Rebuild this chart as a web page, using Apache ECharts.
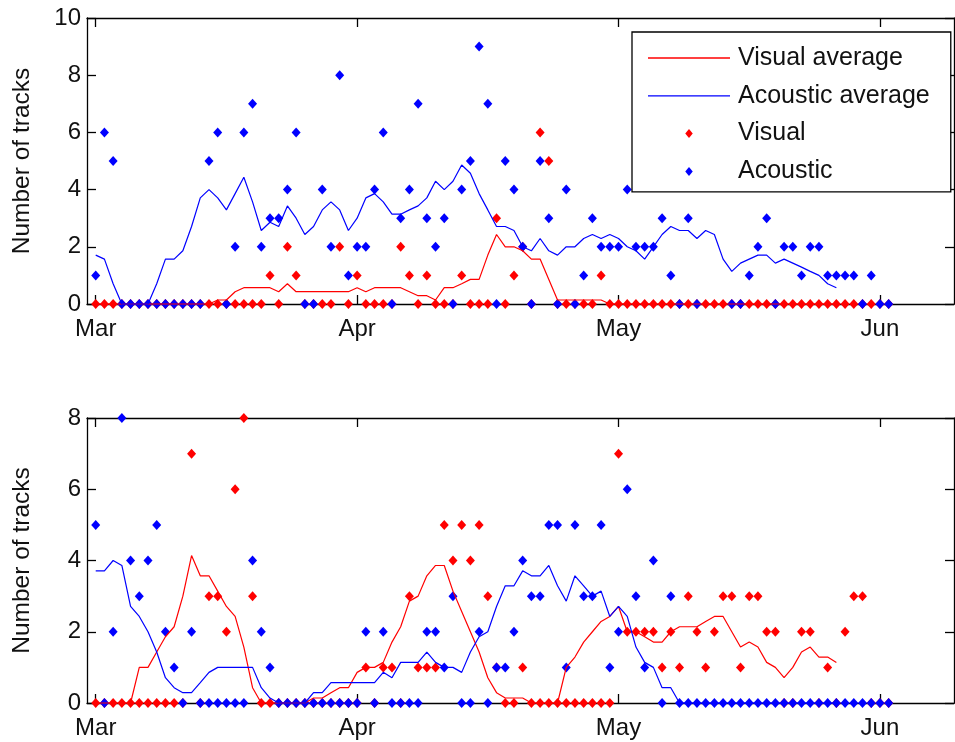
<!DOCTYPE html>
<html>
<head>
<meta charset="utf-8">
<script src="https://cdn.jsdelivr.net/npm/echarts/dist/echarts.min.js"></script>
<style>
  html, body { margin: 0; padding: 0; background: #fff; }
  #chart { width: 955px; height: 742px; }
</style>
</head>
<body>
<div id="chart"></div>
<script>
// Days counted from the first day of March; month ticks every 30 days.
const dayTicks = [0, 30, 60, 90];
const monthLabels = ['Mar', 'Apr', 'May', 'Jun'];

// Upper panel: daily track counts (d0 .. d91)
const topVisual = [
  0,0,0,0,0,0,0,0,0,0,
  0,0,0,0,0,0,0,0,0,0,
  1,0,2,1,0,0,0,0,2,0,
  1,0,0,0,0,2,1,0,1,0,
  0,0,1,0,0,0,3,0,1,2,
  0,6,5,0,0,0,0,0,1,0,
  0,0,0,0,0,0,0,0,0,0,
  0,0,0,0,0,0,0,0,0,0,
  0,0,0,0,0,0,0,0,0,0,
  0,0
];
const topAcoustic = [
  1,6,5,0,0,0,0,0,0,0,
  0,0,0,5,6,0,2,6,7,2,
  3,3,4,6,0,0,4,2,8,1,
  2,2,4,6,0,3,4,7,3,2,
  3,0,4,5,9,7,0,5,4,2,
  0,5,3,0,4,0,1,3,2,2,
  2,4,2,2,2,3,1,0,3,0,
  5,5,5,0,0,1,2,3,0,2,
  2,1,2,2,1,1,1,1,0,1,
  0,0
];
// Upper panel: 7-day averages (d0 .. d85)
const topVisualAvg = [
  0,0,0,0,0,0,0,0,0,0,
  0,0,0,0,0.14,0.14,0.43,0.57,0.57,0.57,
  0.57,0.43,0.71,0.43,0.43,0.43,0.43,0.43,0.43,0.43,
  0.57,0.43,0.57,0.57,0.57,0.57,0.43,0.29,0.29,0.14,
  0.57,0.57,0.71,0.86,0.86,1.71,2.43,2,2,1.86,
  1.57,1.57,0.86,0.14,0.14,0.14,0.14,0.14,0.14,0,
  0,0,0,0,0,0,0,0,0,0,
  0,0,0,0,0,0,0,0,0,0,
  0,0,0,0,0,0
];
const topAcousticAvg = [
  1.71,1.57,0.71,0,0,0,0,0.71,1.57,1.57,
  1.86,2.71,3.71,4,3.71,3.29,3.86,4.43,3.57,2.57,
  2.86,2.71,3.43,3,2.43,2.71,3.29,3.57,3.29,2.57,
  3,3.71,3.86,3.57,3.14,3.14,3.29,3.43,3.71,4.29,
  4,4.29,4.86,4.57,3.86,3.29,2.71,2.71,2.57,2,
  1.86,2.29,1.86,1.71,2,2,2.29,2.43,2.29,2.43,
  2.29,2,1.86,1.57,2,2.43,2.71,2.57,2.57,2.29,
  2.57,2.43,1.57,1.14,1.43,1.57,1.71,1.71,1.43,1.57,
  1.43,1.29,1.14,1,0.71,0.57
];

// Lower panel: daily track counts (d0 .. d91)
const bottomVisual = [
  0,0,0,0,0,0,0,0,0,0,
  0,7,0,3,3,2,6,8,3,0,
  0,0,0,0,0,0,0,0,0,0,
  0,1,0,1,1,0,3,1,1,1,
  5,4,5,4,5,3,1,0,0,1,
  0,0,0,0,0,0,0,0,0,0,
  7,2,2,2,2,1,2,1,3,2,
  1,2,3,3,1,3,3,2,2,0,
  0,2,2,0,1,0,2,3,3,0,
  0,0
];
const bottomAcoustic = [
  5,0,2,8,4,3,4,5,2,1,
  0,2,0,0,0,0,0,0,4,2,
  1,0,0,0,0,0,0,0,0,0,
  0,2,0,2,0,0,0,0,2,2,
  1,3,0,0,2,0,1,1,2,4,
  3,3,5,5,1,5,3,3,5,1,
  2,6,3,1,4,0,3,0,0,0,
  0,0,0,0,0,0,0,0,0,0,
  0,0,0,0,0,0,0,0,0,0,
  0,0
];
// Lower panel: 7-day averages (d0 .. d85)
const bottomVisualAvg = [
  0,0,0,0,0,1,1,1.43,1.86,2.14,
  3,4.14,3.57,3.57,3.14,2.71,2.43,1.57,0.43,0,
  0,0,0,0,0,0.14,0.14,0.29,0.43,0.43,
  0.86,1,1,1.14,1.71,2.14,2.86,3,3.57,3.86,
  3.86,3.14,2.57,2,1.43,0.71,0.29,0.14,0.14,0.14,
  0,0,0,0,1,1.29,1.71,2,2.29,2.43,
  2.71,2,2,1.86,1.71,1.71,2,2.14,2.14,2.14,
  2.29,2.43,2.43,2,1.57,1.71,1.57,1.14,1,0.71,
  1,1.43,1.57,1.29,1.29,1.14
];
const bottomAcousticAvg = [
  3.71,3.71,4,3.86,2.71,2.43,2,1.43,0.71,0.43,
  0.29,0.29,0.57,0.86,1,1,1,1,1,0.43,
  0.14,0,0,0,0,0.29,0.29,0.57,0.57,0.57,
  0.57,0.57,0.57,0.86,0.71,1.14,1.14,1.14,1.43,1.14,
  1,1,0.86,1.43,1.86,2,2.71,3.29,3.29,3.71,
  3.57,3.57,3.86,3.29,2.86,3.57,3.29,3,3.14,2.43,
  2.71,2.43,1.57,1.14,1,0.43,0.43,0,0,0,
  0,0,0,0,0,0,0,0,0,0,
  0,0,0,0,0,0
];

const FONT = "'Liberation Sans', Arial, Helvetica, sans-serif";
const RED = '#ff0000';
const BLUE = '#0000ff';
const X_MIN = -1;
const X_MAX = 98.5;

// Legend glyphs: a thin bar for the averages, a small diamond for the daily counts
const LINE_ICON = 'path://M0,0H82V1.3H0Z';
const DIAMOND_ICON = 'path://M5,0L10,6L5,12L0,6Z';

const byDay = values => values.map((v, i) => [i, v]);

function xAxisFor(gridIndex, position, showLabels) {
  return {
    type: 'value', gridIndex, position, min: X_MIN, max: X_MAX,
    axisLine: { show: true, onZero: false, lineStyle: { color: '#000', width: 1.3 } },
    axisTick: { show: true, inside: true, length: 9, customValues: dayTicks,
                lineStyle: { color: '#000', width: 1.3 } },
    axisLabel: { show: showLabels, customValues: dayTicks, margin: 13,
                 formatter: v => monthLabels[dayTicks.indexOf(v)] || '',
                 fontFamily: FONT, fontSize: 24, color: '#111' },
    splitLine: { show: false }
  };
}

function yAxisFor(gridIndex, position, max, showLabels) {
  return {
    type: 'value', gridIndex, position, min: 0, max, interval: 2,
    name: showLabels ? 'Number of tracks' : '',
    nameLocation: 'middle', nameGap: 52,
    nameTextStyle: { fontFamily: FONT, fontSize: 24.5, color: '#111' },
    axisLine: { show: true, onZero: false, lineStyle: { color: '#000', width: 1.3 } },
    axisTick: { show: true, inside: true, length: 9, lineStyle: { color: '#000', width: 1.3 } },
    axisLabel: { show: showLabels, margin: 6, fontFamily: FONT, fontSize: 24, color: '#111' },
    splitLine: { show: false }
  };
}

function avgLine(name, color, data, axis) {
  return {
    name, type: 'line', xAxisIndex: axis, yAxisIndex: axis,
    data: byDay(data), symbol: 'none', showSymbol: false,
    lineStyle: { color, width: 1.2 }, itemStyle: { color },
    clip: false, animation: false
  };
}

function dots(name, color, data, axis) {
  return {
    name, type: 'scatter', xAxisIndex: axis, yAxisIndex: axis,
    data: byDay(data), symbol: 'diamond', symbolSize: [9, 10],
    itemStyle: { color, opacity: 1 }, clip: false, animation: false
  };
}

const chart = echarts.init(document.getElementById('chart'), null, { renderer: 'canvas' });
chart.setOption({
  backgroundColor: '#fff',
  animation: false,
  textStyle: { fontFamily: FONT },
  grid: [
    { left: 87, top: 18, width: 867, height: 286 },
    { left: 87, top: 418, width: 867, height: 285 }
  ],
  xAxis: [
    xAxisFor(0, 'bottom', true),
    xAxisFor(0, 'top', false),
    xAxisFor(1, 'bottom', true),
    xAxisFor(1, 'top', false)
  ],
  yAxis: [
    yAxisFor(0, 'left', 10, true),
    yAxisFor(0, 'right', 10, false),
    yAxisFor(1, 'left', 8, true),
    yAxisFor(1, 'right', 8, false)
  ],
  legend: {
    data: [
      { name: 'Visual average', icon: LINE_ICON },
      { name: 'Acoustic average', icon: LINE_ICON },
      { name: 'Visual', icon: DIAMOND_ICON },
      { name: 'Acoustic', icon: DIAMOND_ICON }
    ],
    orient: 'vertical', left: 632, top: 32,
    padding: [13.5, 21, 8, 16],
    itemWidth: 82, itemHeight: 9, itemGap: 12.8,
    backgroundColor: '#fff', borderColor: '#000', borderWidth: 1.3, borderRadius: 0,
    selectedMode: false,
    textStyle: { fontFamily: FONT, fontSize: 25, color: '#111', lineHeight: 25, padding: [0, 0, 0, 3] }
  },
  series: [
    avgLine('Visual average', RED, topVisualAvg, 0),
    avgLine('Acoustic average', BLUE, topAcousticAvg, 0),
    dots('Visual', RED, topVisual, 0),
    dots('Acoustic', BLUE, topAcoustic, 0),
    avgLine('Visual average', RED, bottomVisualAvg, 2),
    avgLine('Acoustic average', BLUE, bottomAcousticAvg, 2),
    dots('Visual', RED, bottomVisual, 2),
    dots('Acoustic', BLUE, bottomAcoustic, 2)
  ]
});
</script>
</body>
</html>
